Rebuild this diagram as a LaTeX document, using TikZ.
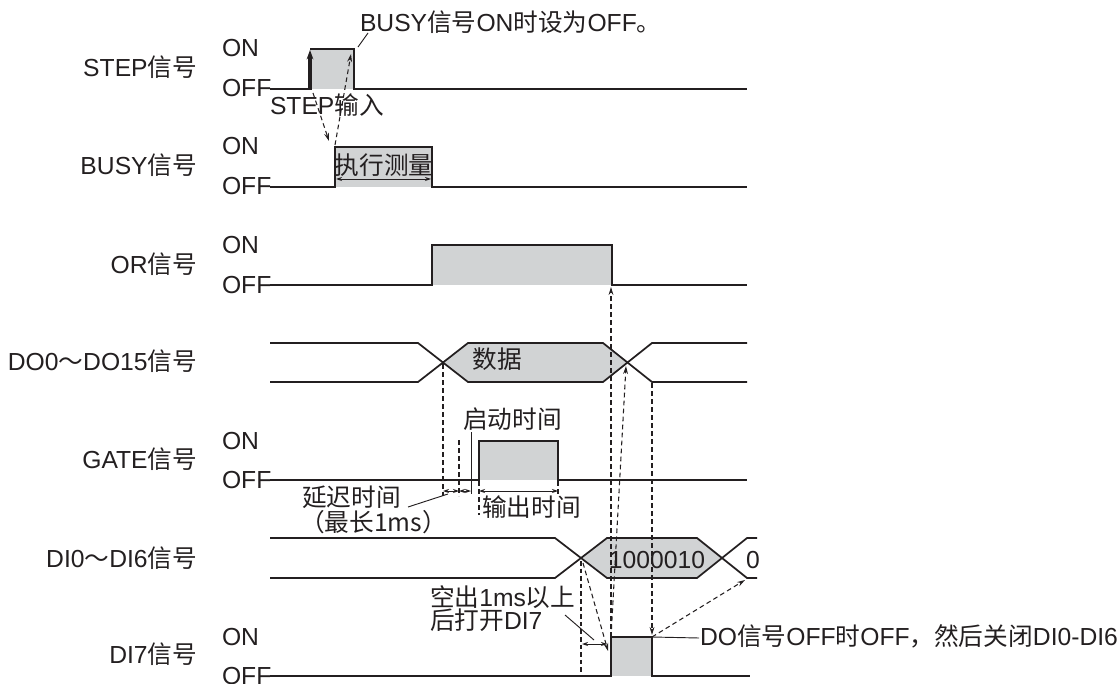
\documentclass[tikz,border=0pt]{standalone}
\usepackage{fontspec}
\setmainfont{Liberation Sans}
\newfontfamily\cjk{Noto Sans CJK SC}
\usetikzlibrary{arrows.meta}
\definecolor{fillgray}{RGB}{209,211,212}
\definecolor{ink}{RGB}{35,31,32}
\begin{document}
\begin{tikzpicture}[x=0.75pt,y=-0.75pt,
  sig/.style={line width=1.3pt, draw=ink, line join=miter},
  gfill/.style={fill=fillgray, draw=none},
  dsh/.style={line width=0.8pt, draw=ink, dash pattern=on 3.5pt off 2.5pt},
  tip/.style={-{Stealth[length=6pt,width=3.6pt]}},
  both/.style={line width=0.7pt, draw=ink, {Stealth[length=4.5pt,width=3pt]}-{Stealth[length=4.5pt,width=3pt]}},
  lead/.style={line width=0.7pt, draw=ink},
  lbl/.style={font=\fontsize{18.5}{20}\selectfont, text=ink, inner sep=0pt, outer sep=0pt}]
\useasboundingbox (0,0) rectangle (1120,684);

% ---------- key points ----------
\coordinate (stepRise) at (310,89);
\coordinate (stepFall) at (354,49);
\coordinate (busyRise) at (335,147);
\coordinate (orFall) at (611,287);
\coordinate (doLX) at (443,362);
\coordinate (doRX) at (627,362);
\coordinate (doRB) at (652,383);
\coordinate (diLX) at (581,558);
\coordinate (diRB) at (747,578);
\coordinate (di7Rise) at (611,637);
\coordinate (di7Fall) at (652,637);
\coordinate (di7Off) at (581,676);

% ---------- gray fills ----------
\fill[gfill] (310,49) rectangle (354,89);
\fill[gfill] (335,147) rectangle (432,187);
\fill[gfill] (432,245) rectangle (612,285);
\fill[gfill] (443,362) -- (468,343) -- (603,343) -- (627,362) -- (603,382) -- (468,382) -- cycle;
\fill[gfill] (479,441) rectangle (558,480);
\fill[gfill] (581,558) -- (607,538) -- (697,538) -- (722,558) -- (697,578) -- (607,578) -- cycle;
\fill[gfill] (611,637) rectangle (652,676);

% ---------- dashed timing references ----------
\draw[dsh,tip] (313,93) -- (329,141);
\draw[dsh,tip] (busyRise) ++(0,-2) -- (351,54);
\draw[dsh,tip] (di7Rise) -- (orFall);
\draw[dsh,tip] (di7Rise) -- (626,366);
\draw[dsh,tip] (doRB) -- (652,635);
\draw[dsh,tip] (di7Fall) -- (745,580);
\draw[line width=1.8pt, draw=ink, dash pattern=on 3.5pt off 2.2pt] (581,561) -- (di7Off);
\draw[dsh,tip] (583,563) -- (608,651);
\draw[dsh] (443,364) -- (443,496);
\draw[dsh] (459,440) -- (459,496);
\draw[dsh] (479,481) -- (479,515);
\draw[dsh] (558,481) -- (558,496);

% ---------- signals ----------
% STEP
\draw[sig] (270,89) -- (310,89);
\draw[sig] (310,49) -- (354,49) -- (354,89) -- (747,89);
\draw[line width=2.3pt, draw=ink, -{Stealth[length=7pt,width=5pt]}] (stepRise) ++(0,1) -- (310,50);
% BUSY
\draw[sig] (270,187) -- (335,187) -- (335,147) -- (432,147) -- (432,187) -- (747,187);
% OR
\draw[sig] (270,285) -- (432,285) -- (432,245) -- (612,245) -- (612,285) -- (747,285);
% DO bus
\draw[sig] (270,343) -- (418,343) -- (468,382) -- (603,382) -- (652,343) -- (747,343);
\draw[sig] (270,382) -- (418,382) -- (468,343) -- (603,343) -- (652,382) -- (747,382);
% GATE
\draw[sig] (270,480) -- (479,480) -- (479,441) -- (558,441) -- (558,480) -- (747,480);
% DI bus
\draw[sig] (270,538) -- (555,538) -- (607,578) -- (697,578) -- (747,538) -- (757,538);
\draw[sig] (270,578) -- (555,578) -- (607,538) -- (697,538) -- (747,578) -- (757,578);
% DI7
\draw[sig] (270,676) -- (611,676) -- (611,637) -- (652,637) -- (652,676) -- (750,676);

% ---------- dimension arrows and leaders ----------
\draw[both] (336,179) -- (431,179);
\draw[both] (443,491) -- (459,491);
\draw[both] (459,491) -- (471,491);
\draw[both] (479,491) -- (558,491);
\draw[lead] (471,432) -- (471,494);
\draw[both] (582,644) -- (607,644);
\draw[lead] (358,47) -- (368,33);
\draw[lead] (408,507) -- (448,494);
\draw[lead] (565,615) -- (594,640);
\draw[lead] (di7Fall) -- (699,638);

% ---------- signal names ----------
\node[lbl, anchor=base east] (nStep) at (197,77) {STEP{\cjk 信号}};
\node[lbl, anchor=base east] (nBusy) at (197,175) {BUSY{\cjk 信号}};
\node[lbl, anchor=base east] (nOr) at (197,273) {OR{\cjk 信号}};
\node[lbl, anchor=base east] (nDo) at (197,370) {DO0{\cjk ～}DO15{\cjk 信号}};
\node[lbl, anchor=base east] (nGate) at (197,468) {GATE{\cjk 信号}};
\node[lbl, anchor=base east] (nDi) at (197,567) {DI0{\cjk ～}DI6{\cjk 信号}};
\node[lbl, anchor=base east] (nDi7) at (197,663) {DI7{\cjk 信号}};

% ---------- ON / OFF ----------
\node[lbl, anchor=base west] (on1) at (222,57) {ON};
\node[lbl, anchor=base west] (off1) at (222,97) {OFF};
\node[lbl, anchor=base west] (on2) at (222,155) {ON};
\node[lbl, anchor=base west] (off2) at (222,195) {OFF};
\node[lbl, anchor=base west] (on3) at (222,253) {ON};
\node[lbl, anchor=base west] (off3) at (222,293) {OFF};
\node[lbl, anchor=base west] (on4) at (222,449) {ON};
\node[lbl, anchor=base west] (off4) at (222,488) {OFF};
\node[lbl, anchor=base west] (on5) at (222,645) {ON};
\node[lbl, anchor=base west] (off5) at (222,684) {OFF};

% ---------- annotations ----------
\node[lbl, anchor=base west] (tBusyOn) at (360,32) {BUSY{\cjk 信号}ON{\cjk 时设为}OFF{\cjk 。}};
\node[lbl, anchor=base west] (tStepIn) at (270,115) {STEP{\cjk 输入}};
\node[lbl, anchor=base] (tMeas) at (384,175) {\cjk 执行测量};
\node[lbl, anchor=base] (tData) at (497,368) {\cjk 数据};
\node[lbl, anchor=base west] (tStart) at (463,428) {\cjk 启动时间};
\node[lbl, anchor=base west] (tDelay) at (302,506) {\cjk 延迟时间};
\node[lbl, anchor=base west] (tMax) at (300,531) {\cjk （最长1ms）};
\node[lbl, anchor=base west] (tOut) at (482,516) {\cjk 输出时间};
\node[lbl, anchor=base] (tBits) at (657,568) {1000010};
\node[lbl, anchor=base] (tZero) at (753,568) {0};
\node[lbl, anchor=base west] (tGap1) at (430,606) {{\cjk 空出}1ms{\cjk 以上}};
\node[lbl, anchor=base west] (tGap2) at (430,629) {{\cjk 后打开}DI7};
\node[lbl, anchor=base west] (tDoOff) at (700,645) {DO{\cjk 信号}OFF{\cjk 时}OFF{\cjk ，然后关闭}DI0-DI6};
\end{tikzpicture}
\end{document}
